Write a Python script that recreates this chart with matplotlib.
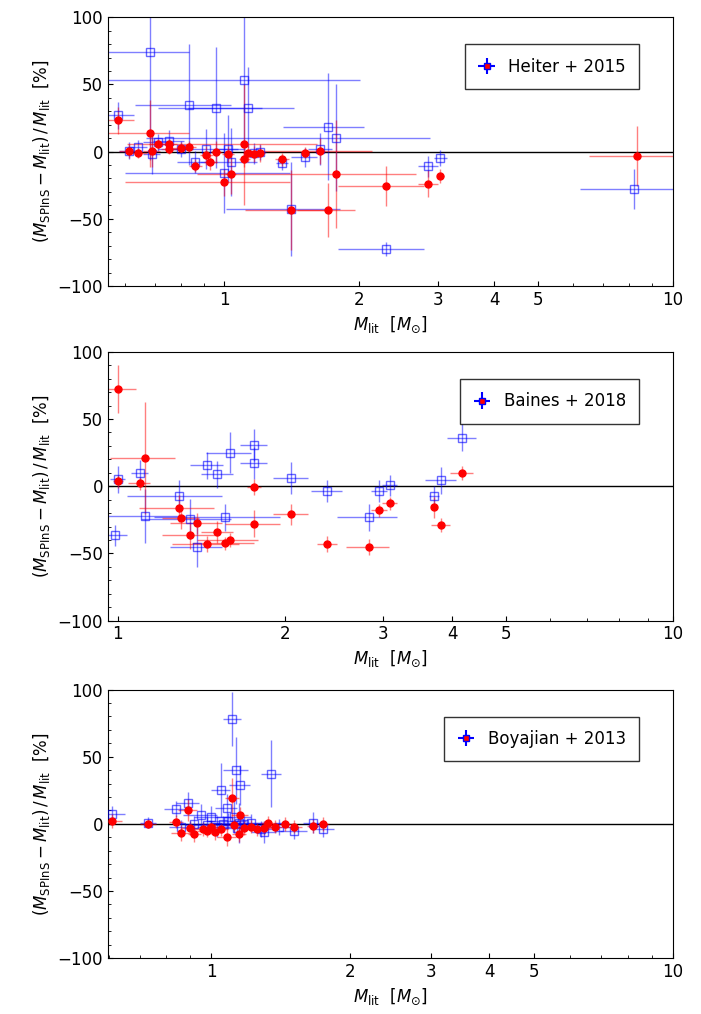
import matplotlib.pyplot as plt
import numpy as np

plt.rcParams["mathtext.fontset"] = "dejavusans"
plt.rcParams["font.size"] = 12

# ---- Heiter + 2015 ----
h_x_r = [0.58, 0.612, 0.641, 0.682, 0.690, 0.710, 0.752, 0.752, 0.80, 0.833, 0.862, 0.912, 0.931, 0.96,
         1.0, 1.02, 1.033, 1.108, 1.108, 1.13, 1.162, 1.20, 1.345, 1.41, 1.51, 1.635, 1.70, 1.77,
         2.29, 2.85, 3.03, 8.3]
h_y_r = [23.4, 0.6, -1, 13.7, 0.6, 5.6, 5.6, 2, 3, 3.6, -10.5, -2.8, -7.8, -0.3,
         -22.7, -1.9, -16.5, 5.6, -5.8, -1.4, -1.9, -1.4, -5.8, -43.5, -0.9, 0.4, -43.5, -16.5,
         -25.6, -23.9, -18.2, -3.3]
h_xe_r = [0.05, 0.03, 0.03, 0.15, 0.03, 0.03, 0.03, 0.03, 0.03, 0.03, 0.03, 0.03, 0.03, 0.03,
          0.40, 0.03, 0.03, 0.5, 0.03, 0.03, 0.03, 0.03, 0.05, 0.3, 0.03, 0.5, 0.25, 0.9,
          0.5, 0.15, 0.05, 1.8]
h_ye_r = [10, 5, 4, 25, 12, 4, 4, 4, 4, 4, 5, 7, 6, 8,
          10, 6, 15, 45, 6, 6, 6, 6, 5, 30, 4, 10, 20, 40,
          15, 10, 5, 22]
h_x_b = [0.58, 0.612, 0.641, 0.682, 0.690, 0.710, 0.752, 0.80, 0.833, 0.862, 0.912, 0.96,
         1.0, 1.02, 1.033, 1.108, 1.13, 1.162, 1.20, 1.345, 1.41, 1.51, 1.635, 1.70, 1.77,
         2.29, 2.85, 3.03, 8.2]
h_y_b = [27, 0.8, 3.6, 74, -2, 6.8, 8, 2, 35, -7.8, 1.7, 32.6,
         -15.8, 2, -7.8, 53, 32.6, -1.4, 0, -8.6, -43, -4.3, 2, 18.5, 10.3,
         -72.4, -11, -4.6, -28]
h_xe_b = [0.05, 0.03, 0.03, 0.15, 0.03, 0.05, 0.06, 0.05, 0.2, 0.08, 0.2, 0.25,
          0.4, 0.05, 0.15, 0.9, 0.3, 0.03, 0.04, 0.04, 0.4, 0.1, 0.1, 0.35, 1.1,
          0.5, 0.15, 0.1, 2.0]
h_ye_b = [10, 6, 5, 80, 15, 6, 8, 6, 45, 8, 15, 45,
          30, 25, 25, 60, 30, 8, 6, 5, 35, 7, 12, 40, 40,
          5, 8, 6, 15]

# ---- Baines + 2018 ----
b_x_r = [1.0, 1.0, 1.095, 1.12, 1.29, 1.30, 1.35, 1.39, 1.45, 1.51, 1.56, 1.59, 1.76, 1.76,
         2.05, 2.38, 2.83, 2.96, 3.09, 3.71, 3.82, 4.17]
b_y_r = [72.4, 3.7, 2.2, 21, -16.4, -24, -36.6, -27.6, -43, -34, -42.5, -40, -28, -0.7,
         -21, -43, -45.5, -18, -12.7, -15.7, -29, 9.7]
b_xe_r = [0.08, 0.02, 0.05, 0.15, 0.2, 0.1, 0.15, 0.15, 0.2, 0.1, 0.2, 0.2, 0.2, 0.05,
          0.15, 0.1, 0.25, 0.1, 0.1, 0.05, 0.15, 0.2]
b_ye_r = [18, 5, 5, 42, 10, 8, 10, 8, 6, 8, 5, 5, 10, 6,
          8, 6, 6, 5, 5, 8, 5, 5]
b_x_b = [0.99, 1.0, 1.095, 1.12, 1.29, 1.35, 1.39, 1.45, 1.51, 1.56, 1.59, 1.76, 1.76,
         2.05, 2.38, 2.83, 2.96, 3.09, 3.71, 3.82, 4.17]
b_y_b = [-36.6, 5, 9.7, -22, -7.5, -24.6, -45, 15.7, 9, -23, 25, 30.6, 17,
         6, -3.7, -23, -3.7, 0.7, -7.5, 4.5, 36]
b_xe_b = [0.05, 0.03, 0.04, 0.2, 0.25, 0.25, 0.15, 0.1, 0.1, 0.4, 0.15, 0.1, 0.1,
          0.15, 0.15, 0.35, 0.1, 0.1, 0.08, 0.25, 0.25]
b_ye_b = [8, 10, 10, 20, 12, 15, 15, 10, 10, 10, 15, 12, 12,
          12, 8, 10, 8, 8, 8, 10, 10]

# ---- Boyajian + 2013 ----
y_x_r = [0.61, 0.73, 0.84, 0.86, 0.89, 0.92, 0.96, 1.0, 1.02, 1.05, 1.08, 1.11, 1.15, 1.155,
         1.18, 1.22, 1.26, 1.30, 1.33, 1.375, 1.445, 1.51, 1.66, 1.75, 0.9, 0.98, 1.12]
y_y_r = [2.2, 0, 1.7, -6.5, 10.4, -7.5, -3.7, -2.5, -5.7, -4, -9.4, 19, -7.5, 6.3,
         -3, -2, -4, -3.2, 1, -2, 0, -2, -1.5, -0.2, -3, -5, -1]
y_xe_r = [0.03, 0.03, 0.03, 0.04, 0.04, 0.03, 0.04, 0.04, 0.03, 0.04, 0.05, 0.04, 0.04, 0.05,
          0.04, 0.04, 0.05, 0.05, 0.05, 0.05, 0.06, 0.06, 0.05, 0.05, 0.04, 0.05, 0.05]
y_ye_r = [5, 3, 5, 6, 8, 6, 5, 5, 6, 5, 7, 15, 6, 6,
          5, 5, 5, 5, 5, 5, 5, 5, 5, 5, 5, 5, 5]
y_x_b = [0.61, 0.73, 0.84, 0.86, 0.89, 0.95, 1.0, 1.05, 1.08, 1.11, 1.12, 1.13, 1.155, 1.15,
         1.28, 1.30, 1.35, 1.51, 1.66, 1.75, 0.92, 0.98, 1.03, 1.06, 1.09, 1.14, 1.18, 1.22, 1.4]
y_y_b = [7.5, 1, 11, -2, 15.7, 6.7, 5, 25, 12, 78, 5, 40, 29, 0.5,
         -3.7, -6, 37.3, -5, 1, -3.7, 0, -1, -2, 0, 2, -3, 0, 1, -2]
y_xe_b = [0.04, 0.03, 0.05, 0.05, 0.05, 0.08, 0.08, 0.05, 0.06, 0.05, 0.1, 0.07, 0.06, 0.15,
          0.08, 0.08, 0.07, 0.1, 0.08, 0.1, 0.08, 0.1, 0.1, 0.1, 0.1, 0.1, 0.08, 0.08, 0.08]
y_ye_b = [6, 4, 6, 5, 8, 8, 8, 20, 10, 20, 12, 25, 15, 15,
          6, 8, 25, 6, 8, 6, 6, 6, 8, 6, 6, 6, 6, 6, 6]

panels = [
    ("Heiter + 2015", 0.55, h_x_r, h_y_r, h_xe_r, h_ye_r, h_x_b, h_y_b, h_xe_b, h_ye_b),
    ("Baines + 2018", 0.96, b_x_r, b_y_r, b_xe_r, b_ye_r, b_x_b, b_y_b, b_xe_b, b_ye_b),
    ("Boyajian + 2013", 0.598, y_x_r, y_y_r, y_xe_r, y_ye_r, y_x_b, y_y_b, y_xe_b, y_ye_b),
]
bottoms = [0.718, 0.388, 0.055]

fig = plt.figure(figsize=(7.01, 10.14), dpi=100)
for (name, xmin, xr, yr, xer, yer, xb, yb, xeb, yeb), bot in zip(panels, bottoms):
    ax = fig.add_axes([0.154, bot, 0.806, 0.265])
    ax.axhline(0, color="k", lw=1, zorder=1)
    ax.errorbar(xb, yb, xerr=xeb, yerr=yeb, fmt="none", ecolor="blue", elinewidth=1, alpha=0.5, zorder=2)
    ax.errorbar(xr, yr, xerr=xer, yerr=yer, fmt="none", ecolor="red", elinewidth=1, alpha=0.5, zorder=2)
    ax.plot(xb, yb, "s", mfc="none", mec="blue", ms=6, alpha=0.6, zorder=3)
    ax.plot(xr, yr, "o", color="red", ms=5, zorder=4)
    ax.errorbar([np.nan], [np.nan], xerr=[1], yerr=[1], fmt="s", mfc="red", mec="blue",
                ecolor="blue", ms=5, label=name)
    ax.legend(loc="upper right", bbox_to_anchor=(0.955, 0.93), fancybox=False, edgecolor="k",
              handlelength=1.0, borderpad=0.8, fontsize=12)
    ax.set_xscale("log")
    ax.set_xlim(xmin, 10)
    ax.set_ylim(-100, 100)
    ax.set_xticks([1, 2, 3, 4, 5, 10])
    ax.set_xticklabels(["1", "2", "3", "4", "5", "10"])
    ax.set_yticks([-100, -50, 0, 50, 100])
    ax.set_yticks(np.arange(-100, 101, 10), minor=True)
    ax.tick_params(which="both", direction="in")
    ax.set_xlabel(r"$M_{\rm lit}\ \ [M_{\odot}]$")
    ax.set_ylabel(r"$(M_{\rm SPInS}-M_{\rm lit})\,/\,M_{\rm lit}$  [%]")

fig.savefig("out.png")
